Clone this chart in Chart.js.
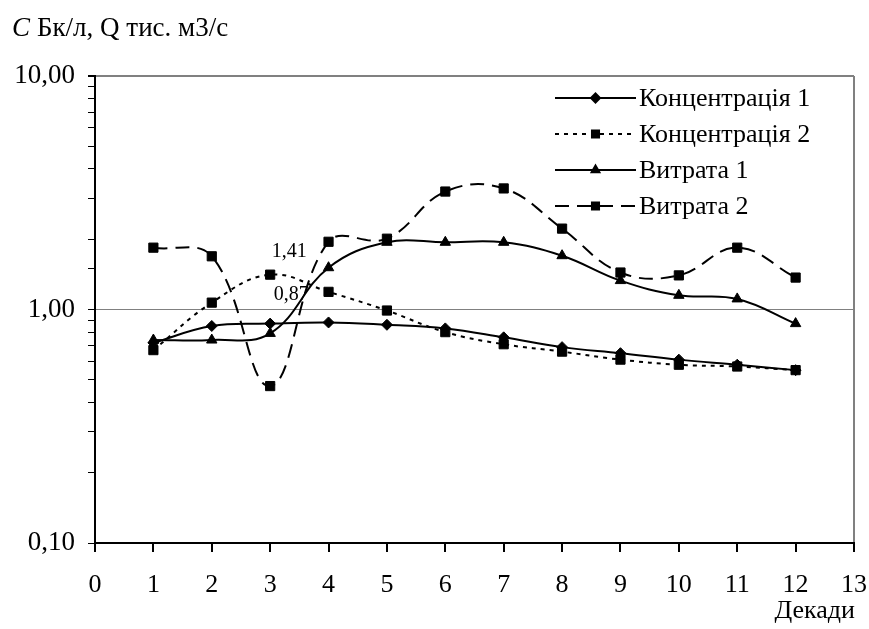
<!DOCTYPE html>
<html>
<head>
<meta charset="utf-8">
<script src="https://cdn.jsdelivr.net/npm/chart.js@4/dist/chart.umd.min.js"></script>
<style>
  body { margin: 0; background: #fff; }
  #wrap { width: 869px; height: 629px; position: relative; }
</style>
</head>
<body>
<div id="wrap"><canvas id="chart"></canvas></div>
<script>
const decades = [1, 2, 3, 4, 5, 6, 7, 8, 9, 10, 11, 12];
const conc1 = [0.72, 0.85, 0.87, 0.88, 0.86, 0.83, 0.76, 0.69, 0.65, 0.61, 0.58, 0.55];
const conc2 = [0.67, 1.07, 1.41, 1.19, 0.99, 0.80, 0.71, 0.66, 0.61, 0.58, 0.57, 0.55];
const flow1 = [0.74, 0.74, 0.79, 1.51, 1.94, 1.94, 1.94, 1.70, 1.33, 1.15, 1.11, 0.87];
const flow2 = [1.84, 1.69, 0.47, 1.95, 2.01, 3.20, 3.30, 2.22, 1.44, 1.40, 1.84, 1.37];
const seriesNames = ['Концентрація 1', 'Концентрація 2', 'Витрата 1', 'Витрата 2'];
const yLabelTicks = [0.1, 1, 10];

const FONT = 'Liberation Serif';
Chart.defaults.font.family = FONT;
Chart.defaults.color = '#000';

const pts = arr => decades.map((d, i) => ({x: d, y: arr[i]}));
const fmt = v => v.toFixed(2).replace('.', ',');
const isMajor = v => yLabelTicks.some(t => Math.abs(Math.log10(v) - Math.log10(t)) < 1e-6);

function series(label, arr, style, dash, radius) {
  return {
    label,
    data: pts(arr),
    borderColor: '#000',
    backgroundColor: '#000',
    borderWidth: 2,
    borderDash: dash,
    pointStyle: style,
    pointRadius: radius,
    pointHoverRadius: radius,
    pointBackgroundColor: '#000',
    pointBorderColor: '#000',
    pointBorderWidth: 1,
    tension: 0.4,
    fill: false
  };
}

const extras = {
  id: 'extras',
  afterDraw(chart) {
    const ctx = chart.ctx;
    ctx.save();
    ctx.fillStyle = '#000';
    ctx.textBaseline = 'alphabetic';
    // axis caption at the top
    ctx.font = 'italic 27px ' + FONT;
    ctx.fillText('C', 12, 36);
    ctx.font = '27px ' + FONT;
    ctx.fillText('Бк/л, Q тис. м3/с', 37, 36);
    // x caption
    ctx.font = '26px ' + FONT;
    ctx.textAlign = 'right';
    ctx.fillText('Декади', 855, 618);

    // data labels
    ctx.font = '20px ' + FONT;
    ctx.textAlign = 'center';
    ctx.textBaseline = 'middle';
    const p2 = chart.getDatasetMeta(1).data[2];
    ctx.fillText(fmt(conc2[2]), p2.x + 19, p2.y - 23);
    const p1 = chart.getDatasetMeta(0).data[2];
    ctx.fillText(fmt(conc1[2]), p1.x + 21, p1.y - 29);

    // legend
    const lx0 = 555, lx1 = 636, rowY = [98, 134, 170, 206];
    chart.data.datasets.forEach((ds, i) => {
      const y = rowY[i];
      ctx.strokeStyle = '#000';
      ctx.lineWidth = 2;
      ctx.setLineDash(ds.borderDash || []);
      ctx.beginPath();
      ctx.moveTo(lx0, y);
      ctx.lineTo(lx1, y);
      ctx.stroke();
      ctx.setLineDash([]);
      Chart.helpers.drawPoint(ctx, {
        pointStyle: ds.pointStyle,
        radius: ds.pointStyle === 'rect' ? 5 : 4.5,
        rotation: 0,
        borderWidth: 1
      }, (lx0 + lx1) / 2, y);
      ctx.fill();
      ctx.textAlign = 'left';
      ctx.fillStyle = '#000';
      ctx.font = '26px ' + FONT;
      ctx.fillText(ds.label, 639, y + 1);
    });
    ctx.restore();
  }
};

new Chart(document.getElementById('chart'), {
  type: 'line',
  data: {
    datasets: [
      series(seriesNames[0], conc1, 'rectRot', [], 5.5),
      series(seriesNames[1], conc2, 'rect', [4, 5], 6.5),
      series(seriesNames[2], flow1, 'triangle', [], 6),
      series(seriesNames[3], flow2, 'rect', [14, 8], 6.5)
    ]
  },
  options: {
    responsive: true,
    maintainAspectRatio: false,
    animation: false,
    layout: { padding: { top: 76, right: 15, left: 0, bottom: 0 } },
    plugins: {
      legend: { display: false },
      tooltip: { enabled: false }
    },
    scales: {
      x: {
        type: 'linear',
        min: 0,
        max: 13,
        ticks: { stepSize: 1, font: { size: 26 }, padding: 18, maxRotation: 0 },
        grid: {
          color: c => (c.tick && c.tick.value === 13) ? '#808080' : 'rgba(0,0,0,0)',
          tickColor: '#000',
          tickLength: 9,
          lineWidth: 2
        },
        border: { color: '#000', width: 2 },
        afterFit: s => { s.height = 86; s.paddingLeft = 0; s.paddingRight = 0; }
      },
      y: {
        type: 'logarithmic',
        min: 0.1,
        max: 10,
        ticks: {
          autoSkip: false,
          font: { size: 27 },
          padding: 13,
          callback: v => isMajor(v) ? fmt(v) : ''
        },
        grid: {
          color: c => (c.tick && (c.tick.value === 1 || c.tick.value === 10)) ? '#808080' : 'rgba(0,0,0,0)',
          tickColor: '#000',
          tickLength: 7,
          lineWidth: c => (c.tick && c.tick.value === 10) ? 2 : 1
        },
        border: { color: '#000', width: 2 },
        afterFit: s => { s.width = 95; }
      }
    }
  },
  plugins: [extras]
});
</script>
</body>
</html>
